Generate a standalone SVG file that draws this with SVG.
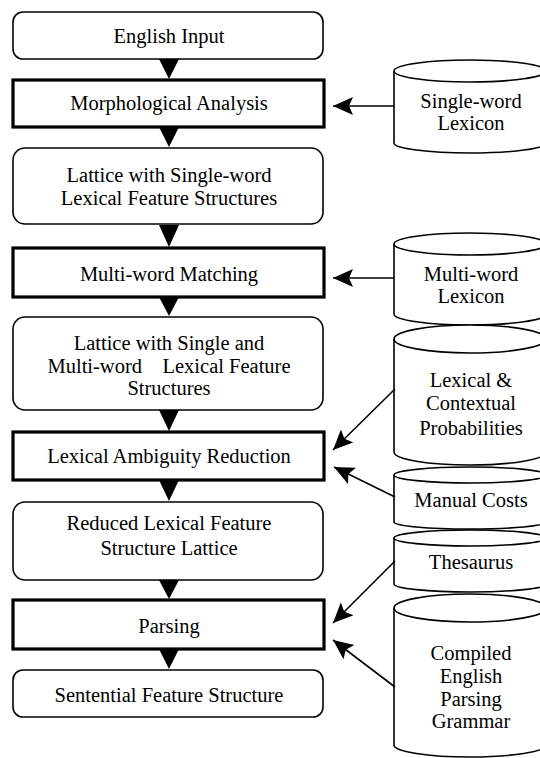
<svg xmlns="http://www.w3.org/2000/svg" width="540" height="758" viewBox="0 0 540 758">
<style>
.rb{fill:#fff;stroke:#000;stroke-width:1.6}
.pb{fill:#fff;stroke:#000;stroke-width:3.2}
.cy{fill:#fff;stroke:#000;stroke-width:1.6}
.ln{fill:none;stroke:#000;stroke-width:1.6}
.tri{fill:#000;stroke:none}
</style>
<defs>
<marker id="ah" markerUnits="userSpaceOnUse" markerWidth="22" markerHeight="20" refX="20" refY="9" orient="auto">
<path d="M0,0 L20,9 L0,18 L4,9 Z" fill="#000"/>
</marker>
</defs>
<rect width="540" height="758" fill="#fff"/>

<g id="english-input"><rect class="rb" x="13" y="12" width="310" height="47" rx="10"/><text style="font-family:'Liberation Serif';font-size:20.5px;text-anchor:middle" x="169" y="43">English Input</text></g>
<g id="morphological-analysis"><rect class="pb" x="13" y="80" width="311" height="47"/><text style="font-family:'Liberation Serif';font-size:20.5px;text-anchor:middle" x="169" y="110">Morphological Analysis</text></g>
<g id="lattice-single"><rect class="rb" x="13" y="148" width="310" height="76" rx="12"/><text style="font-family:'Liberation Serif';font-size:20.5px;text-anchor:middle" x="169" y="182">Lattice with Single-word</text><text style="font-family:'Liberation Serif';font-size:20.5px;text-anchor:middle" x="169" y="205">Lexical Feature Structures</text></g>
<g id="multiword-matching"><rect class="pb" x="13" y="248" width="311" height="49"/><text style="font-family:'Liberation Serif';font-size:20.5px;text-anchor:middle" x="169" y="281">Multi-word Matching</text></g>
<g id="lattice-multi"><rect class="rb" x="13" y="317" width="310" height="93" rx="12"/><text style="font-family:'Liberation Serif';font-size:20.5px;text-anchor:middle" x="169" y="350">Lattice with Single and</text><text style="font-family:'Liberation Serif';font-size:20.5px;text-anchor:middle;white-space:pre" x="169" y="373">Multi-word    Lexical Feature</text><text style="font-family:'Liberation Serif';font-size:20.5px;text-anchor:middle" x="169" y="395">Structures</text></g>
<g id="lexical-ambiguity-reduction"><rect class="pb" x="13" y="432" width="311" height="48"/><text style="font-family:'Liberation Serif';font-size:20.5px;text-anchor:middle" x="169" y="463">Lexical Ambiguity Reduction</text></g>
<g id="reduced-lattice"><rect class="rb" x="13" y="502" width="310" height="78" rx="12"/><text style="font-family:'Liberation Serif';font-size:20.5px;text-anchor:middle" x="169" y="530">Reduced Lexical Feature</text><text style="font-family:'Liberation Serif';font-size:20.5px;text-anchor:middle" x="169" y="555">Structure Lattice</text></g>
<g id="parsing"><rect class="pb" x="13" y="600" width="311" height="49"/><text style="font-family:'Liberation Serif';font-size:20.5px;text-anchor:middle" x="169" y="633">Parsing</text></g>
<g id="sentential-fs"><rect class="rb" x="13" y="670" width="310" height="47" rx="10"/><text style="font-family:'Liberation Serif';font-size:20.5px;text-anchor:middle" x="169" y="702">Sentential Feature Structure</text></g>

<g id="single-word-lexicon">
<path class="cy" d="M394,71 A76,11 0 0 1 546,71 L546,143 A76,10 0 0 1 394,143 Z"/>
<path class="ln" d="M394,71 A76,11 0 0 0 546,71"/>
<text style="font-family:'Liberation Serif';font-size:20.5px;text-anchor:middle" x="471" y="108">Single-word</text><text style="font-family:'Liberation Serif';font-size:20.5px;text-anchor:middle" x="471" y="130">Lexicon</text></g>
<g id="multi-word-lexicon">
<path class="cy" d="M394,244 A76,11 0 0 1 546,244 L546,314 A76,11 0 0 1 394,314 Z"/>
<path class="ln" d="M394,244 A76,11 0 0 0 546,244"/>
<text style="font-family:'Liberation Serif';font-size:20.5px;text-anchor:middle" x="471" y="281">Multi-word</text><text style="font-family:'Liberation Serif';font-size:20.5px;text-anchor:middle" x="471" y="303">Lexicon</text></g>
<g id="lexical-contextual-probabilities">
<path class="cy" d="M394,339 A76,14 0 0 1 546,339 L546,452 A76,13 0 0 1 394,452 Z"/>
<path class="ln" d="M394,339 A76,14 0 0 0 546,339"/>
<text style="font-family:'Liberation Serif';font-size:20.5px;text-anchor:middle" x="471" y="387">Lexical &amp;</text><text style="font-family:'Liberation Serif';font-size:20.5px;text-anchor:middle" x="471" y="410">Contextual</text><text style="font-family:'Liberation Serif';font-size:20.5px;text-anchor:middle" x="471" y="435">Probabilities</text></g>
<g id="manual-costs">
<path class="cy" d="M394,475 A76,8 0 0 1 546,475 L546,522 A76,7 0 0 1 394,522 Z"/>
<path class="ln" d="M394,475 A76,8 0 0 0 546,475"/>
<text style="font-family:'Liberation Serif';font-size:20.5px;text-anchor:middle" x="471" y="507">Manual Costs</text></g>
<g id="thesaurus">
<path class="cy" d="M394,538 A76,8 0 0 1 546,538 L546,584 A76,8 0 0 1 394,584 Z"/>
<path class="ln" d="M394,538 A76,8 0 0 0 546,538"/>
<text style="font-family:'Liberation Serif';font-size:20.5px;text-anchor:middle" x="471" y="569">Thesaurus</text></g>
<g id="compiled-grammar">
<path class="cy" d="M394,608 A76,14 0 0 1 546,608 L546,745 A76,12 0 0 1 394,745 Z"/>
<path class="ln" d="M394,608 A76,14 0 0 0 546,608"/>
<text style="font-family:'Liberation Serif';font-size:20.5px;text-anchor:middle" x="471" y="660">Compiled</text><text style="font-family:'Liberation Serif';font-size:20.5px;text-anchor:middle" x="471" y="683">English</text><text style="font-family:'Liberation Serif';font-size:20.5px;text-anchor:middle" x="471" y="706">Parsing</text><text style="font-family:'Liberation Serif';font-size:20.5px;text-anchor:middle" x="471" y="728">Grammar</text></g>

<g id="connectors">
<path class="tri" d="M159,59 L179,59 L169,79 Z"/>
<path class="tri" d="M159,127 L179,127 L169,147 Z"/>
<path class="tri" d="M159,225 L179,225 L169,247 Z"/>
<path class="tri" d="M159,297 L179,297 L169,316 Z"/>
<path class="tri" d="M159,410 L179,410 L169,431 Z"/>
<path class="tri" d="M159,480 L179,480 L169,501 Z"/>
<path class="tri" d="M159,580 L179,580 L169,599 Z"/>
<path class="tri" d="M159,649 L179,649 L169,669 Z"/>
<line class="ln" x1="394" y1="106" x2="333" y2="106" marker-end="url(#ah)"/>
<line class="ln" x1="394" y1="278" x2="333" y2="278" marker-end="url(#ah)"/>
<line class="ln" x1="395" y1="389" x2="333" y2="450" marker-end="url(#ah)"/>
<line class="ln" x1="395" y1="497" x2="334" y2="467" marker-end="url(#ah)"/>
<line class="ln" x1="395" y1="561" x2="333" y2="623" marker-end="url(#ah)"/>
<line class="ln" x1="395" y1="687" x2="333" y2="640" marker-end="url(#ah)"/>
</g>
</svg>
